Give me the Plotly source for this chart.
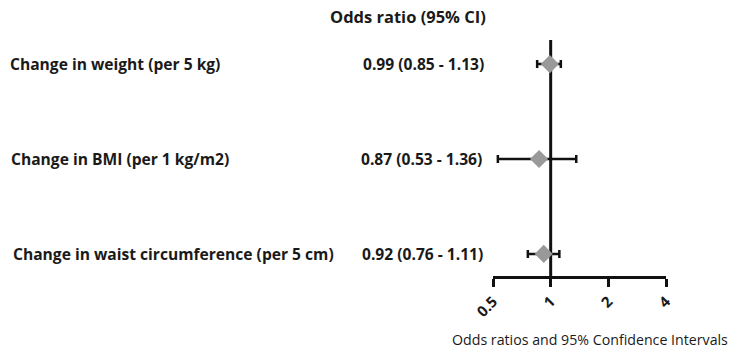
import math
import plotly.graph_objects as go

# Forest plot data
labels = [
    "Change in weight (per 5 kg)",
    "Change in BMI (per 1 kg/m2)",
    "Change in waist circumference (per 5 cm)",
]
odds_ratio = [0.99, 0.87, 0.92]
ci_low = [0.85, 0.53, 0.76]
ci_high = [1.13, 1.36, 1.11]
row_pos = [3, 2, 1]
tick_vals = [0.5, 1, 2, 4]
tick_text = ["<b>0.5</b>", "<b>1</b>", "<b>2</b>", "<b>4</b>"]

W, H = 730, 349
L, R, T, B = 493, 64, 40, 73
plot_w = W - L - R

FONT = "'Open Sans', sans-serif"
TXT = "#1a1a1a"


def px_to_paper(px):
    return (px - L) / plot_w


fig = go.Figure()

fig.add_trace(go.Scatter(
    x=odds_ratio,
    y=row_pos,
    mode="markers",
    marker=dict(symbol="diamond", size=14, color="#999999", line=dict(width=0)),
    error_x=dict(
        type="data",
        symmetric=False,
        array=[h - o for h, o in zip(ci_high, odds_ratio)],
        arrayminus=[o - l for o, l in zip(odds_ratio, ci_low)],
        color="#111111",
        thickness=2.5,
        width=4,
    ),
    showlegend=False,
    hoverinfo="skip",
))

# Reference line at OR = 1
fig.add_shape(type="line", xref="x", yref="paper", x0=1, x1=1, y0=0, y1=1,
              line=dict(color="#111111", width=3), layer="below")

annotations = []
# Header
annotations.append(dict(
    text="<b>Odds ratio (95% CI)</b>", xref="paper", yref="paper",
    x=px_to_paper(408), y=1, yshift=24, xanchor="center", yanchor="middle",
    showarrow=False, font=dict(family=FONT, size=16.5, color=TXT)))

value_right = [486, 484, 485]
label_left = [8, 9, 11]
for lab, o, lo, hi, y, vr, ll in zip(labels, odds_ratio, ci_low, ci_high, row_pos, value_right, label_left):
    annotations.append(dict(
        text=f"<b>{lab}</b>", xref="paper", yref="y",
        x=px_to_paper(ll), y=y, xanchor="left", yanchor="middle",
        showarrow=False, font=dict(family=FONT, size=15.6, color=TXT)))
    annotations.append(dict(
        text=f"<b>{o:.2f} ({lo:.2f} - {hi:.2f})</b>", xref="paper", yref="y",
        x=px_to_paper(vr), y=y, xanchor="right", yanchor="middle",
        showarrow=False, font=dict(family=FONT, size=15.6, color=TXT)))

# Axis title
annotations.append(dict(
    text="Odds ratios and 95% Confidence Intervals", xref="paper", yref="paper",
    x=px_to_paper(590), y=0, yshift=-63, xanchor="center", yanchor="middle",
    showarrow=False, font=dict(family=FONT, size=14.2, color=TXT)))

fig.update_layout(
    width=W, height=H,
    margin=dict(l=L, r=R, t=T, b=B),
    paper_bgcolor="white", plot_bgcolor="white",
    annotations=annotations,
    xaxis=dict(
        type="log",
        range=[math.log10(0.5), math.log10(4)],
        tickvals=tick_vals, ticktext=tick_text,
        tickangle=-45,
        ticks="outside", ticklen=8, tickwidth=3, tickcolor="#111111",
        showline=True, linecolor="#111111", linewidth=3,
        showgrid=False, zeroline=False,
        tickfont=dict(family=FONT, size=15, color=TXT),
    ),
    yaxis=dict(
        range=[0.767, 3.254],
        visible=False, showgrid=False, zeroline=False,
    ),
)

fig.write_html("out.html")
